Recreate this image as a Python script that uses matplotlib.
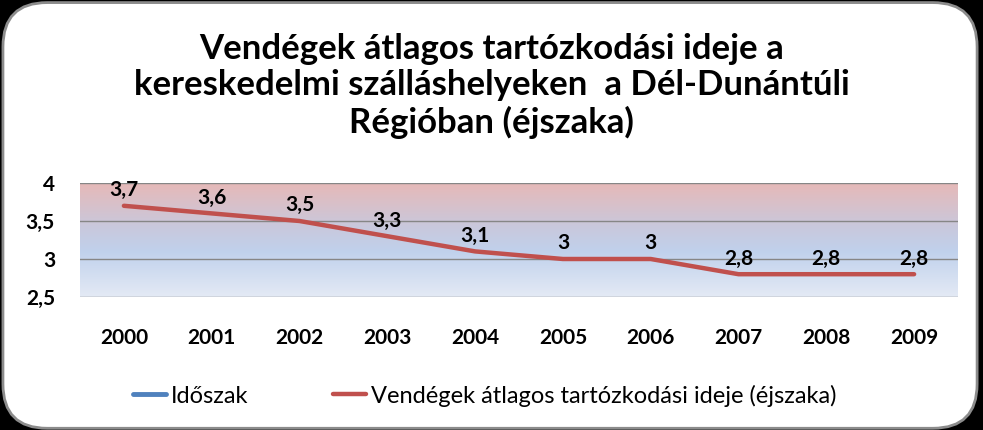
import matplotlib.pyplot as plt
import numpy as np
from matplotlib.colors import LinearSegmentedColormap
from matplotlib.patches import FancyBboxPatch

years = ['2000', '2001', '2002', '2003', '2004', '2005', '2006', '2007', '2008', '2009']
values = [3.7, 3.6, 3.5, 3.3, 3.1, 3.0, 3.0, 2.8, 2.8, 2.8]
labels = ['3,7', '3,6', '3,5', '3,3', '3,1', '3', '3', '2,8', '2,8', '2,8']
yticks = [2.5, 3, 3.5, 4]
ytick_labels = ['2,5', '3', '3,5', '4']

title = 'Vendégek átlagos tartózkodási ideje a\nkereskedelmi szálláshelyeken  a Dél-Dunántúli\nRégióban (éjszaka)'
series1 = 'Időszak'
series2 = 'Vendégek átlagos tartózkodási ideje (éjszaka)'

plt.rcParams['font.family'] = ['Lato', 'DejaVu Sans']

fig = plt.figure(figsize=(9.83, 4.30), dpi=100)
fig.patch.set_facecolor('black')

# fehér lekerekített keret
bg = FancyBboxPatch((0.003, 0.004), 0.991, 0.99, boxstyle='round,pad=0,rounding_size=0.045',
                    transform=fig.transFigure, facecolor='white', edgecolor='#8c8c8c',
                    linewidth=2, mutation_aspect=983 / 430, zorder=-5)
fig.patches.append(bg)

ax = fig.add_axes([80 / 983, 1 - 297 / 430, 878 / 983, 114 / 430])
ax.set_facecolor('none')

# háttér színátmenet
cmap = LinearSegmentedColormap.from_list('bg', [(0, '#e6b9b8'), (0.38, '#c9c8dc'),
                                                 (0.6, '#c0d1ec'), (1, '#e4eaf5')])
grad = np.linspace(0, 1, 256).reshape(-1, 1)
ax.imshow(grad, aspect='auto', cmap=cmap, extent=[-0.5, 9.5, 2.5, 4], origin='upper', zorder=0)

x = np.arange(len(years))
ax.plot([], [], color='#4f81bd', lw=3.5, solid_capstyle='round', label=series1)
ax.plot(x, values, color='#c0504d', lw=3.2, solid_capstyle='round', zorder=3, label=series2)

for xi, v, t in zip(x, values, labels):
    ax.annotate(t, (xi, v), xytext=(0, 4), textcoords='offset points', ha='center', va='bottom',
                fontsize=15, fontweight='bold', zorder=4)

ax.set_xlim(-0.5, 9.5)
ax.set_ylim(2.5, 4)
ax.set_yticks(yticks)
ax.set_yticklabels(ytick_labels, fontsize=15, fontweight='bold')
ax.set_xticks(x)
ax.set_xticklabels(years, fontsize=15, fontweight='bold')
ax.tick_params(length=0)
ax.tick_params(axis='x', pad=22)
ax.tick_params(axis='y', pad=18)
for yv in yticks:
    ax.axhline(yv, color='#868686', lw=1, zorder=1)
for s in ax.spines.values():
    s.set_visible(False)

fig.text(0.5, 0.8, title, ha='center', va='center', fontsize=25, fontweight='bold',
         linespacing=1.15)

fig.legend(loc='center', bbox_to_anchor=(0.493, 0.08), ncol=2, frameon=False, fontsize=17,
           handlelength=1.4, handletextpad=0.2, columnspacing=3.6)

fig.savefig('out.png', dpi=100, facecolor=fig.get_facecolor())
